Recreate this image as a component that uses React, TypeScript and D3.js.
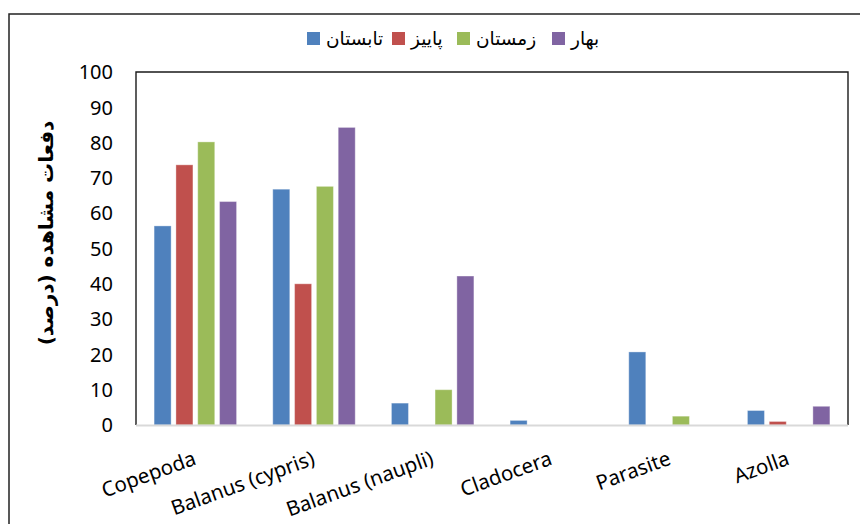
import React from "react";
import * as d3 from "d3";

// Observation frequency (%) of each taxon by season
const categories = [
  "Copepoda",
  "Balanus (cypris)",
  "Balanus (naupli)",
  "Cladocera",
  "Parasite",
  "Azolla",
];
const seasons = ["تابستان", "پاییز", "زمستان", "بهار"];
const summer = [56.4, 66.8, 6.2, 1.3, 20.7, 4.1];
const autumn = [73.7, 40, 0, 0, 0, 1.0];
const winter = [80.2, 67.6, 10, 0, 2.5, 0];
const spring = [63.3, 84.3, 42.2, 0, 0, 5.3];
const yTicks = [0, 10, 20, 30, 40, 50, 60, 70, 80, 90, 100];
const yTitle = "دفعات مشاهده (درصد)";

const seriesValues = [summer, autumn, winter, spring];
const colors = ["#4F81BD", "#C0504D", "#9BBB59", "#8064A2"];

const W = 860;
const H = 524;
const plot = { left: 136, right: 848, top: 72, bottom: 425 };
const legendX = [307, 392, 457, 552];
const latin = "'Noto Sans', 'DejaVu Sans', sans-serif";
const persian = "'DejaVu Sans', sans-serif";

export default function App() {
  const x0 = d3
    .scaleBand<string>()
    .domain(categories)
    .range([plot.left, plot.right])
    .paddingInner(0)
    .paddingOuter(0);
  const x1 = d3
    .scaleBand<string>()
    .domain(seasons)
    .range([0, x0.bandwidth()])
    .paddingInner(0.22)
    .paddingOuter(0.83);
  const y = d3.scaleLinear().domain([0, 100]).range([plot.bottom, plot.top]);

  return (
    <div style={{ position: "absolute", left: 0, top: 0 }}>
      <svg width={W} height={H} style={{ display: "block", background: "#fff" }}>
        {/* outer frame */}
        <rect x={9} y={14} width={W + 20} height={H + 20} fill="none" stroke="#222" strokeWidth={1.5} />

        {/* legend */}
        {seasons.map((s, i) => (
          <g key={s}>
            <rect x={legendX[i]} y={32} width={13} height={13} fill={colors[i]} />
            <text
              x={legendX[i] + 19}
              y={45}
              fontFamily={persian}
              fontSize={18.5}
              fill="#000"
              textAnchor="start"
            >
              {s}
            </text>
          </g>
        ))}

        {/* plot area frame */}
        <path
          d={`M${plot.left},${plot.bottom} V${plot.top} H${plot.right} V${plot.bottom}`}
          fill="none"
          stroke="#1a1a1a"
          strokeWidth={1.4}
        />

        {/* bars */}
        {categories.map((c, ci) => (
          <g key={c} transform={`translate(${x0(c)},0)`}>
            {seasons.map((s, si) => {
              const v = seriesValues[si][ci];
              if (!v) return null;
              return (
                <rect
                  key={s}
                  x={x1(s)}
                  y={y(v)}
                  width={x1.bandwidth()}
                  height={y(0) - y(v)}
                  fill={colors[si]}
                  stroke="#ffffff"
                  strokeOpacity={0.35}
                  strokeWidth={1}
                />
              );
            })}
          </g>
        ))}

        {/* x axis line */}
        <line x1={plot.left} x2={plot.right} y1={plot.bottom + 0.5} y2={plot.bottom + 0.5} stroke="#d9d9d9" strokeWidth={2.2} />

        {/* y tick labels */}
        {yTicks.map((t) => (
          <text
            key={t}
            x={113}
            y={y(t)}
            dy="0.36em"
            textAnchor="end"
            fontFamily={latin}
            fontSize={20}
            fill="#000"
          >
            {t}
          </text>
        ))}

        {/* x category labels */}
        {categories.map((c) => (
          <text
            key={c}
            transform={`translate(${(x0(c) as number) + x0.bandwidth() / 2 + 2},${464}) rotate(-20)`}
            textAnchor="end"
            fontFamily={latin}
            fontSize={20.5}
            fill="#000"
          >
            {c}
          </text>
        ))}

        {/* y axis title */}
        <text
          transform={`translate(53,233) rotate(-90)`}
          textAnchor="middle"
          fontFamily={persian}
          fontWeight="bold"
          fontSize={20}
          fill="#000"
        >
          {yTitle}
        </text>
      </svg>
    </div>
  );
}
